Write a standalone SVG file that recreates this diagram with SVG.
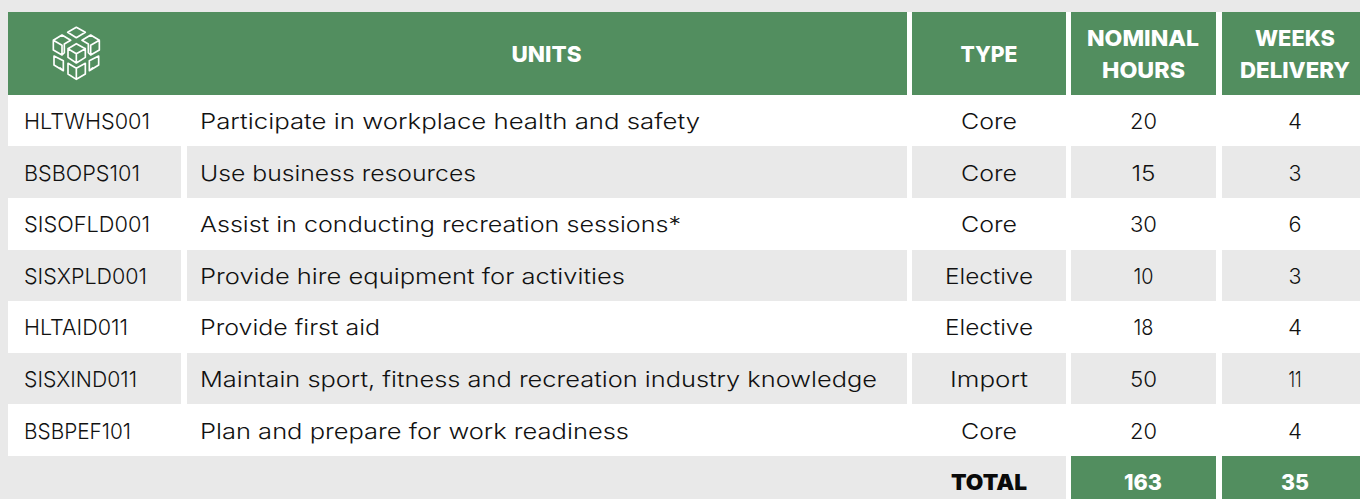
<svg xmlns="http://www.w3.org/2000/svg" width="1360" height="499" viewBox="0 0 1360 499">
<style>
.g{fill:#528e5f}.l{fill:#e9e9e9}
text{font-family:"Inter","Noto Sans",sans-serif}
.t{font-size:22px;font-weight:300;fill:#111}
.m{text-anchor:middle}
.h{font-size:22px;font-weight:800;fill:#fff;text-anchor:middle}
.ic{fill:none;stroke:#fff;stroke-width:5;stroke-linejoin:round;stroke-linecap:round}
</style>
<rect width="1360" height="499" fill="#fff"/>
<rect width="1360" height="12" class="l"/>
<rect width="8" height="499" class="l"/>
<g id="header">
<rect x="8" y="12" width="899" height="83" class="g"/>
<rect x="912" y="12" width="154" height="83" class="g"/>
<rect x="1071" y="12" width="145" height="83" class="g"/>
<rect x="1222" y="12" width="138" height="83" class="g"/>
<g id="icon" class="ic" transform="scale(0.33333)">
<path d="M229 82L256 97L229 113L203 97Z"/>
<path d="M229 131L256 146V172L229 189L204 172V146ZM204 146L229 161L256 146M229 161V189"/>
<path d="M186 105L212 121L193 132V158L186 165L160 150V121ZM160 121L186 136M186 136V165"/>
<path d="M272 105L298 121V150L272 165L265 158V132L246 121ZM298 121L272 136V165"/>
<path d="M162 168L190 182V212L162 195ZM190 212L180 204"/>
<path d="M296 168L268 182V212L296 195ZM268 212L278 204"/>
<path d="M204 190L229 205L256 190V222L229 238L204 222ZM229 205V238"/>
</g>
<text class="h" x="546.5" y="62" textLength="70" lengthAdjust="spacingAndGlyphs">UNITS</text>
<text class="h" x="989" y="62" textLength="57" lengthAdjust="spacingAndGlyphs">TYPE</text>
<text class="h" x="1143" y="46" textLength="112" lengthAdjust="spacingAndGlyphs">NOMINAL</text>
<text class="h" x="1143.5" y="78" textLength="83" lengthAdjust="spacingAndGlyphs">HOURS</text>
<text class="h" x="1295" y="46" textLength="80" lengthAdjust="spacingAndGlyphs">WEEKS</text>
<text class="h" x="1295" y="78" textLength="110" lengthAdjust="spacingAndGlyphs">DELIVERY</text>
</g>
<g id="row-fills" class="l">
<rect x="8" y="146" width="173" height="52"/><rect x="187" y="146" width="720" height="52"/><rect x="912" y="146" width="154" height="52"/><rect x="1071" y="146" width="145" height="52"/><rect x="1222" y="146" width="138" height="52"/>
<rect x="8" y="250" width="173" height="51"/><rect x="187" y="250" width="720" height="51"/><rect x="912" y="250" width="154" height="51"/><rect x="1071" y="250" width="145" height="51"/><rect x="1222" y="250" width="138" height="51"/>
<rect x="8" y="353" width="173" height="51"/><rect x="187" y="353" width="720" height="51"/><rect x="912" y="353" width="154" height="51"/><rect x="1071" y="353" width="145" height="51"/><rect x="1222" y="353" width="138" height="51"/>
</g>
<g id="row-1" class="t"><text x="24" y="129" textLength="126" lengthAdjust="spacingAndGlyphs">HLTWHS001</text><text x="200" y="129" textLength="500" lengthAdjust="spacingAndGlyphs">Participate in workplace health and safety</text><text class="m" x="989" y="129" textLength="56" lengthAdjust="spacingAndGlyphs">Core</text><text class="m" x="1143.5" y="129" textLength="27" lengthAdjust="spacingAndGlyphs">20</text><text class="m" x="1295" y="129" textLength="14" lengthAdjust="spacingAndGlyphs">4</text></g>
<g id="row-2" class="t"><text x="24" y="180.5" textLength="116" lengthAdjust="spacingAndGlyphs">BSBOPS101</text><text x="200" y="180.5" textLength="276" lengthAdjust="spacingAndGlyphs">Use business resources</text><text class="m" x="989" y="180.5" textLength="56" lengthAdjust="spacingAndGlyphs">Core</text><text class="m" x="1143.5" y="180.5" textLength="24" lengthAdjust="spacingAndGlyphs">15</text><text class="m" x="1295" y="180.5" textLength="13" lengthAdjust="spacingAndGlyphs">3</text></g>
<g id="row-3" class="t"><text x="24" y="232" textLength="126" lengthAdjust="spacingAndGlyphs">SISOFLD001</text><text x="200" y="232" textLength="481" lengthAdjust="spacingAndGlyphs">Assist in conducting recreation sessions*</text><text class="m" x="989" y="232" textLength="56" lengthAdjust="spacingAndGlyphs">Core</text><text class="m" x="1143.5" y="232" textLength="27" lengthAdjust="spacingAndGlyphs">30</text><text class="m" x="1295" y="232" textLength="13" lengthAdjust="spacingAndGlyphs">6</text></g>
<g id="row-4" class="t"><text x="24" y="283.5" textLength="123" lengthAdjust="spacingAndGlyphs">SISXPLD001</text><text x="200" y="283.5" textLength="425" lengthAdjust="spacingAndGlyphs">Provide hire equipment for activities</text><text class="m" x="989" y="283.5" textLength="88" lengthAdjust="spacingAndGlyphs">Elective</text><text class="m" x="1143.5" y="283.5" textLength="20" lengthAdjust="spacingAndGlyphs">10</text><text class="m" x="1295" y="283.5" textLength="13" lengthAdjust="spacingAndGlyphs">3</text></g>
<g id="row-5" class="t"><text x="24" y="335" textLength="104" lengthAdjust="spacingAndGlyphs">HLTAID011</text><text x="200" y="335" textLength="180" lengthAdjust="spacingAndGlyphs">Provide first aid</text><text class="m" x="989" y="335" textLength="88" lengthAdjust="spacingAndGlyphs">Elective</text><text class="m" x="1143.5" y="335" textLength="20" lengthAdjust="spacingAndGlyphs">18</text><text class="m" x="1295" y="335" textLength="14" lengthAdjust="spacingAndGlyphs">4</text></g>
<g id="row-6" class="t"><text x="24" y="386.7" textLength="113" lengthAdjust="spacingAndGlyphs">SISXIND011</text><text x="200" y="386.7" textLength="677" lengthAdjust="spacingAndGlyphs">Maintain sport, fitness and recreation industry knowledge</text><text class="m" x="989" y="386.7" textLength="78" lengthAdjust="spacingAndGlyphs">Import</text><text class="m" x="1143.5" y="386.7" textLength="27" lengthAdjust="spacingAndGlyphs">50</text><text class="m" x="1295" y="386.7" textLength="13" lengthAdjust="spacingAndGlyphs">11</text></g>
<g id="row-7" class="t"><text x="24" y="438.5" textLength="107" lengthAdjust="spacingAndGlyphs">BSBPEF101</text><text x="200" y="438.5" textLength="429" lengthAdjust="spacingAndGlyphs">Plan and prepare for work readiness</text><text class="m" x="989" y="438.5" textLength="56" lengthAdjust="spacingAndGlyphs">Core</text><text class="m" x="1143.5" y="438.5" textLength="27" lengthAdjust="spacingAndGlyphs">20</text><text class="m" x="1295" y="438.5" textLength="14" lengthAdjust="spacingAndGlyphs">4</text></g>
<g id="total">
<rect x="0" y="456" width="1066" height="43" class="l"/>
<rect x="1071" y="456" width="145" height="43" class="g"/>
<rect x="1222" y="456" width="138" height="43" class="g"/>
<text x="989" y="489.5" text-anchor="middle" font-size="22" font-weight="900" fill="#0a0a0a" textLength="76" lengthAdjust="spacingAndGlyphs">TOTAL</text>
<text class="h" x="1143" y="489.5" textLength="38" lengthAdjust="spacingAndGlyphs">163</text>
<text class="h" x="1295" y="489.5" textLength="28" lengthAdjust="spacingAndGlyphs">35</text>
</g>
</svg>
